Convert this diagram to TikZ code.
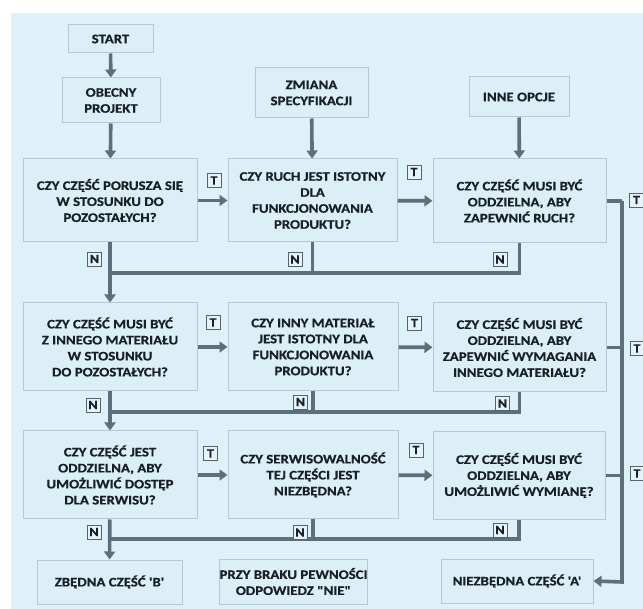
\documentclass[tikz,border=0pt]{standalone}
\usepackage{fontspec}
\setmainfont{Carlito}[Ligatures=TeXOff,FakeStretch=1.14,FakeBold=0.6]
\usetikzlibrary{arrows.meta}
\definecolor{bgc}{HTML}{DEF0F8}
\definecolor{boxc}{HTML}{DCEEF6}
\definecolor{bordc}{HTML}{B4C9D4}
\definecolor{linec}{HTML}{5D6F7A}
\definecolor{txtc}{HTML}{172025}
\definecolor{labc}{HTML}{E6F3F9}
\tikzset{
  box/.style={draw=bordc, fill=boxc, line width=1pt, align=center, inner sep=0pt,
    text=txtc, font=\fontsize{13}{16}\selectfont\bfseries},
  lab/.style={draw=linec!90!black, fill=labc, line width=0.8pt, inner sep=0pt,
    minimum width=14pt, minimum height=14pt, text=txtc, font=\fontsize{12.5}{13}\selectfont\bfseries},
  conn/.style={draw=linec, line width=3.6pt},
  arr/.style={conn, -{Triangle[length=8pt,width=11pt]}},
}
\begin{document}
\begin{tikzpicture}[x=1pt,y=-1pt]
\useasboundingbox (0,0) rectangle (643,609);
\fill[white] (0,0) rectangle (643,609);
\fill[bgc] (11,13) rectangle (643,609);
% top boxes
\node[box, minimum width=85pt, minimum height=28pt] (start) at (110.5,39) {START};
\node[box, minimum width=98pt, minimum height=45pt] (obec) at (111,100.5) {OBECNY\\PROJEKT};
\node[box, minimum width=113pt, minimum height=50pt] (zmia) at (311.5,93) {ZMIANA\\SPECYFIKACJI};
\node[box, minimum width=100pt, minimum height=40pt] (inne) at (519,97) {INNE OPCJE};
% row 1
\node[box, minimum width=174pt, minimum height=83pt] (r11) at (110,200.5) {CZY CZĘŚĆ PORUSZA SIĘ\\W STOSUNKU DO\\POZOSTAŁYCH?};
\node[box, minimum width=169pt, minimum height=83pt] (r12) at (312.5,200.5) {CZY RUCH JEST ISTOTNY\\DLA\\FUNKCJONOWANIA\\PRODUKTU?};
\node[box, minimum width=173pt, minimum height=84pt] (r13) at (519.5,201) {CZY CZĘŚĆ MUSI BYĆ\\ODDZIELNA, ABY\\ZAPEWNIĆ RUCH?};
% row 2
\node[box, minimum width=174pt, minimum height=88pt] (r21) at (110,347) {CZY CZĘŚĆ MUSI BYĆ\\Z INNEGO MATERIAŁU\\W STOSUNKU\\DO POZOSTAŁYCH?};
\node[box, minimum width=170pt, minimum height=88pt] (r22) at (313,347) {CZY INNY MATERIAŁ\\JEST ISTOTNY DLA\\FUNKCJONOWANIA\\PRODUKTU?};
\node[box, minimum width=173pt, minimum height=89pt] (r23) at (519.5,347.5) {CZY CZĘŚĆ MUSI BYĆ\\ODDZIELNA, ABY\\ZAPEWNIĆ WYMAGANIA\\INNEGO MATERIAŁU?};
% row 3
\node[box, minimum width=174pt, minimum height=88pt] (r31) at (110,475) {CZY CZĘŚĆ JEST\\ODDZIELNA, ABY\\UMOŻLIWIĆ DOSTĘP\\DLA SERWISU?};
\node[box, minimum width=170pt, minimum height=88pt] (r32) at (313,475) {CZY SERWISOWALNOŚĆ\\TEJ CZĘŚCI JEST\\NIEZBĘDNA?};
\node[box, minimum width=172pt, minimum height=88pt] (r33) at (519,475.5) {CZY CZĘŚĆ MUSI BYĆ\\ODDZIELNA, ABY\\UMOŻLIWIĆ WYMIANĘ?};
% bottom
\node[box, minimum width=145pt, minimum height=44pt] (zbed) at (109.5,582) {ZBĘDNA CZĘŚĆ 'B'};
\node[box, minimum width=123pt, minimum height=45pt] (przy) at (293.5,581.5) {PRZY BRAKU PEWNOŚCI\\ODPOWIEDZ "NIE"};
\node[box, minimum width=152pt, minimum height=44pt] (niez) at (517,581) {NIEZBĘDNA CZĘŚĆ 'A'};
% junction coordinates
\coordinate (j1) at (110,273);
\coordinate (j2) at (110,412);
\coordinate (j3) at (110,539);
\coordinate (rt) at (622,201);
\coordinate (rb) at (622,582);
% top arrows
\draw[arr] (start) -- (obec);
\draw[arr] (obec) -- (r11);
\draw[arr] (zmia) -- (r12);
\draw[arr] (inne) -- (r13);
% T arrows
\draw[arr] (r11) -- (r12);
\draw[arr] (r12) -- (r13);
\draw[arr] (r21) -- (r22);
\draw[arr] (r22) -- (r23);
\draw[arr] (r31) -- (r32);
\draw[arr] (r32) -- (r33);
% N connectors
\draw[arr] (r11) -- (r21);
\draw[conn] (r12.south) -- (r12.south |- j1);
\draw[conn] (r13.south) |- (j1);
\draw[arr] (r21) -- (r31);
\draw[conn] (r22.south) -- (r22.south |- j2);
\draw[conn] (r23.south) |- (j2);
\draw[arr] (r31) -- (zbed);
\draw[conn] (r32.south) -- (r32.south |- j3);
\draw[conn] (r33.south) |- (j3);
% right T line
\draw[conn] (r13.east) -- (rt);
\draw[conn] (r23.east) -- (r23.east -| rt);
\draw[conn] (r33.east) -- (r33.east -| rt);
\draw[arr] (rt) -- (rb) -- (niez.east);
% T labels
\node[lab] (t11) at (214,180.5) {T};
\node[lab] (t12) at (414,172) {T};
\node[lab] (t13) at (636.5,200) {T};
\node[lab] (t21) at (213,322.5) {T};
\node[lab] (t22) at (414.5,323) {T};
\node[lab] (t23) at (637,348.5) {T};
\node[lab] (t31) at (210.5,453.5) {T};
\node[lab] (t32) at (416,450) {T};
\node[lab] (t33) at (637,473.5) {T};
% N labels
\node[lab] (n11) at (94.5,259) {N};
\node[lab] (n12) at (295,259.5) {N};
\node[lab] (n13) at (500,259.5) {N};
\node[lab] (n21) at (93,405) {N};
\node[lab] (n22) at (300.5,402) {N};
\node[lab] (n23) at (502.5,403.5) {N};
\node[lab] (n31) at (94,532) {N};
\node[lab] (n32) at (300,532.5) {N};
\node[lab] (n33) at (500,530) {N};
\end{tikzpicture}
\end{document}
